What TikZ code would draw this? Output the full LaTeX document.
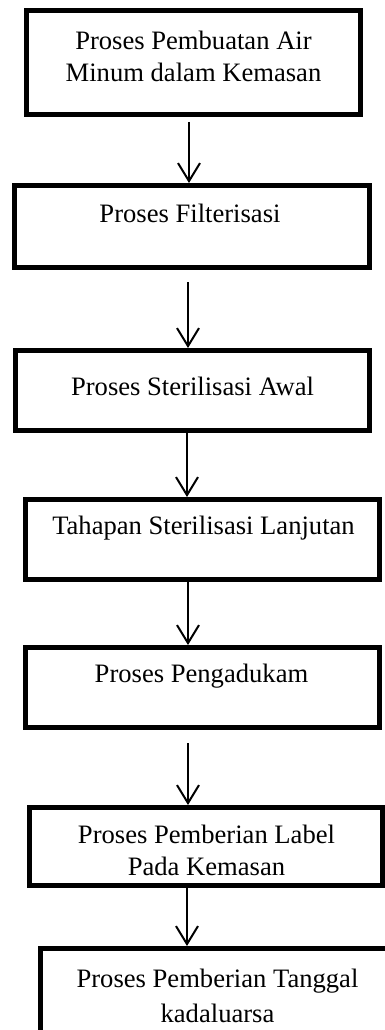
\documentclass[tikz,border=0pt]{standalone}
\usepackage{fontspec}
\setmainfont{Liberation Serif}
\usetikzlibrary{arrows.meta}
\begin{document}
\begin{tikzpicture}[x=1pt,y=-1pt,
  box/.style={draw=black,line width=5pt,rectangle,inner sep=0pt,fill=none},
  txt/.style={anchor=base,inner sep=0pt,font=\fontsize{26.6}{32}\selectfont},
  arr/.style={draw=black,line width=2pt,-{Straight Barb[length=18pt,width=22pt]}}]
\useasboundingbox (0,0) rectangle (385,1030);
\clip (0,0) rectangle (385,1030);

% process boxes (path centre lines)
\node[box,minimum width=334pt,minimum height=104pt] (b1) at (193.5,62.5) {};
\node[box,minimum width=355pt,minimum height=82pt]  (b2) at (192,226.5) {};
\node[box,minimum width=354pt,minimum height=80pt]  (b3) at (192.5,390.5) {};
\node[box,minimum width=354pt,minimum height=80pt]  (b4) at (202.5,539.5) {};
\node[box,minimum width=354pt,minimum height=80pt]  (b5) at (202.5,687.5) {};
\node[box,minimum width=353pt,minimum height=78pt]  (b6) at (206,846.5) {};
\node[box,minimum width=380pt,minimum height=150pt] (b7) at (230.5,1023.5) {};

% labels
\node[txt] (t1a) at (193.5,50) {Proses Pembuatan Air};
\node[txt] (t1b) at (193.5,82) {Minum dalam Kemasan};
\node[txt] (t2)  at (190,222) {Proses Filterisasi};
\node[txt] (t3)  at (192.5,395) {Proses Sterilisasi Awal};
\node[txt] (t4)  at (203.5,534) {Tahapan Sterilisasi Lanjutan};
\node[txt] (t5)  at (201.5,682) {Proses Pengadukam};
\node[txt] (t6a) at (206.5,843) {Proses Pemberian Label};
\node[txt] (t6b) at (206.5,875) {Pada Kemasan};
\node[txt] (t7a) at (217.5,987) {Proses Pemberian Tanggal};
\node[txt] (t7b) at (217.5,1022) {kadaluarsa};

% connector columns
\coordinate (x1) at (189,0);
\coordinate (x2) at (188,0);
\coordinate (x3) at (187,0);
\coordinate (x4) at (188,0);
\coordinate (x5) at (188,0);
\coordinate (x6) at (187,0);

\draw[arr,shorten <=5pt]  (x1 |- b1.south) -- (x1 |- b2.north);
\draw[arr,shorten <=12pt] (x2 |- b2.south) -- (x2 |- b3.north);
\draw[arr]                (x3 |- b3.south) -- (x3 |- b4.north);
\draw[arr]                (x4 |- b4.south) -- (x4 |- b5.north);
\draw[arr,shorten <=13pt] (x5 |- b5.south) -- (x5 |- b6.north);
\draw[arr]                (x6 |- b6.south) -- (x6 |- b7.north);
\end{tikzpicture}
\end{document}
